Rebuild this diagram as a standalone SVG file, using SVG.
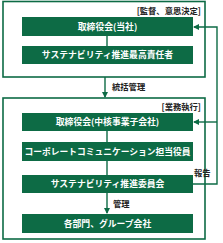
<svg xmlns="http://www.w3.org/2000/svg" width="223" height="243" viewBox="0 0 223 243">
<defs>
<style>
.frame{fill:none;stroke:#0d6b45;stroke-width:1.6}
.box{fill:#0d6b45}
.bt{fill:#fff;font-family:"Noto Sans CJK JP",sans-serif;font-weight:bold;font-size:8.8px;text-anchor:middle}
.lbl{fill:#222;font-family:"Noto Sans CJK JP",sans-serif;font-weight:bold;font-size:8.3px}
.ln{fill:none;stroke:#0d6b45;stroke-width:1.4}
</style>
<marker id="ah" markerWidth="6" markerHeight="6" refX="5" refY="3" orient="auto" markerUnits="userSpaceOnUse">
<path d="M0,0 L6,3 L0,6 Z" fill="#0d6b45"/>
</marker>
</defs>
<g id="frame-top">
<rect class="frame" x="3" y="1.5" width="202" height="75.5"/>
<text class="lbl" x="201" y="14" text-anchor="end">[監督、意思決定]</text>
</g>
<g id="frame-bottom">
<rect class="frame" x="3" y="98" width="202" height="141"/>
<text class="lbl" x="201" y="110" text-anchor="end">[業務執行]</text>
</g>
<g id="connectors">
<line class="ln" x1="107" y1="36" x2="107" y2="46"/>
<line class="ln" x1="107" y1="131" x2="107" y2="142"/>
<line class="ln" x1="107" y1="161" x2="107" y2="175"/>
<line class="ln" x1="105" y1="77" x2="105" y2="97" marker-end="url(#ah)"/>
<line class="ln" x1="107" y1="193" x2="107" y2="213" marker-end="url(#ah)"/>
<polyline class="ln" points="193,184 217,184 217,27 194,27" marker-end="url(#ah)"/>
<line class="ln" x1="217" y1="122" x2="194" y2="122" marker-end="url(#ah)"/>
<text class="lbl" x="112" y="90">統括管理</text>
<text class="lbl" x="113" y="207">管理</text>
<text class="lbl" x="194" y="176">報告</text>
</g>
<g id="n1"><rect class="box" x="22" y="17" width="171" height="19"/><text class="bt" x="107.5" y="29.8">取締役会(当社)</text></g>
<g id="n2"><rect class="box" x="22" y="46" width="171" height="18"/><text class="bt" x="107.5" y="58.3">サステナビリティ推進最高責任者</text></g>
<g id="n3"><rect class="box" x="22" y="113" width="171" height="18"/><text class="bt" x="107.5" y="125.3">取締役会(中核事業子会社)</text></g>
<g id="n4"><rect class="box" x="22" y="142" width="171" height="19"/><text class="bt" x="107.5" y="154.8" textLength="166" lengthAdjust="spacingAndGlyphs">コーポレートコミュニケーション担当役員</text></g>
<g id="n5"><rect class="box" x="22" y="175" width="171" height="18"/><text class="bt" x="107.5" y="187.3">サステナビリティ推進委員会</text></g>
<g id="n6"><rect class="box" x="22" y="214" width="171" height="19"/><text class="bt" x="107.5" y="226.8">各部門、グループ会社</text></g>
</svg>
